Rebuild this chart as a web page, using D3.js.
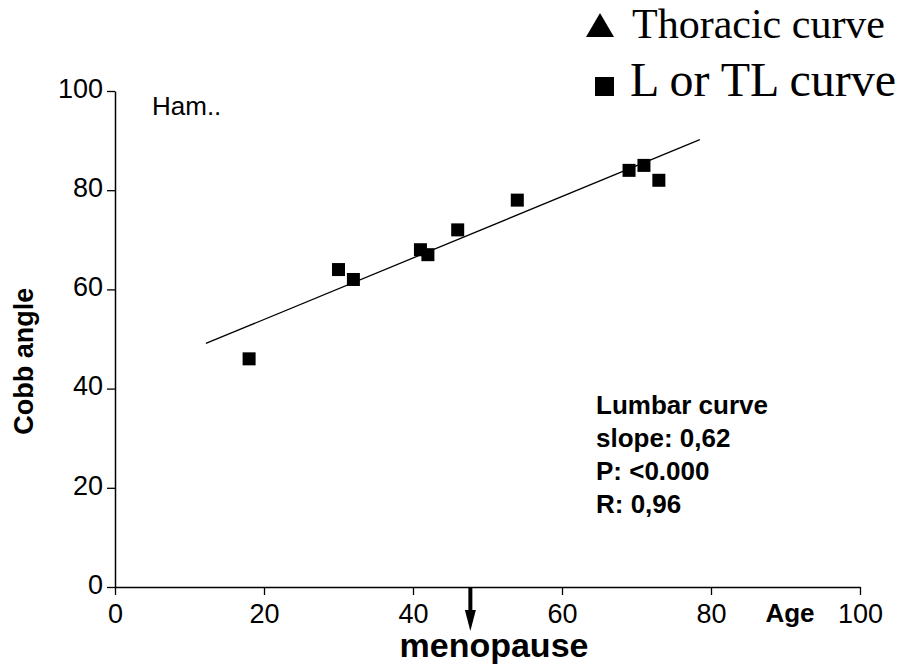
<!DOCTYPE html>
<html>
<head>
<meta charset="utf-8">
<script src="https://cdn.jsdelivr.net/npm/d3@7"></script>
<style>
  body { margin: 0; background: #fff; }
  svg { display: block; }
</style>
</head>
<body>
<svg id="chart" width="903" height="667"></svg>
<script>
// data
const ages = [18, 30, 32, 41, 42, 46, 54, 69, 71, 73];
const cobb = [46, 64, 62, 68, 67, 72, 78, 84, 85, 82];
const fitX = [12.2, 78.5];
const fitY = [49.1, 90.2];
const xTicks = [0, 20, 40, 60, 80, 100];
const yTicks = [0, 20, 40, 60, 80, 100];
const statsLines = ["Lumbar curve", "slope: 0,62", "P: <0.000", "R: 0,96"];
const menopauseAge = 47.7;

const svg = d3.select("#chart");
const font = "Liberation Sans, Arial, sans-serif";

const x = d3.scaleLinear().domain([0, 100]).range([115, 860]);
const y = d3.scaleLinear().domain([0, 100]).range([587, 91]);

// x axis
const xAxis = svg.append("g")
    .attr("transform", `translate(0,${y(0)})`)
    .call(d3.axisBottom(x).tickValues(xTicks).tickSize(8).tickSizeOuter(0).tickFormat(d3.format("d")));
xAxis.select(".domain").attr("stroke", "#000").attr("stroke-width", 1.5);
xAxis.selectAll(".tick line").attr("stroke-width", 1.3);
xAxis.selectAll(".tick text")
    .attr("font-family", font).attr("font-size", 27).attr("fill", "#000")
    .attr("y", 36).attr("dy", null);

// y axis
const yAxis = svg.append("g")
    .attr("transform", `translate(${x(0)},0)`)
    .call(d3.axisLeft(y).tickValues(yTicks).tickSize(8).tickSizeOuter(0).tickFormat(d3.format("d")));
yAxis.select(".domain").attr("stroke", "#000").attr("stroke-width", 1.5);
yAxis.selectAll(".tick line").attr("stroke-width", 1.3);
yAxis.selectAll(".tick text")
    .attr("font-family", font).attr("font-size", 27).attr("fill", "#000")
    .attr("x", -12).attr("dy", "0.23em");

// regression line
svg.append("line")
    .attr("x1", x(fitX[0])).attr("y1", y(fitY[0]))
    .attr("x2", x(fitX[1])).attr("y2", y(fitY[1]))
    .attr("stroke", "#000").attr("stroke-width", 1.3);

// points
svg.selectAll("rect.pt")
    .data(ages.map((a, i) => [a, cobb[i]]))
    .join("rect")
    .attr("class", "pt")
    .attr("x", d => x(d[0]) - 6.5)
    .attr("y", d => y(d[1]) - 6.5)
    .attr("width", 13).attr("height", 13)
    .attr("fill", "#000");

// axis titles
svg.append("text")
    .attr("transform", `translate(33,${y(45.5)}) rotate(-90)`)
    .attr("text-anchor", "middle")
    .attr("font-family", font).attr("font-size", 27).attr("font-weight", "bold")
    .text("Cobb angle");

svg.append("text")
    .attr("x", 790).attr("y", 622)
    .attr("text-anchor", "middle")
    .attr("font-family", font).attr("font-size", 26).attr("font-weight", "bold")
    .text("Age");

svg.append("text")
    .attr("x", 152).attr("y", 115)
    .attr("font-family", font).attr("font-size", 26)
    .text("Ham..");

// stats block
svg.append("g").selectAll("text")
    .data(statsLines)
    .join("text")
    .attr("x", 596)
    .attr("y", (d, i) => 414 + i * 33)
    .attr("font-family", font).attr("font-size", 26).attr("font-weight", "bold")
    .text(d => d);

// menopause arrow
const mx = x(menopauseAge);
svg.append("line")
    .attr("x1", mx).attr("y1", y(0))
    .attr("x2", mx).attr("y2", 612)
    .attr("stroke", "#000").attr("stroke-width", 4);
svg.append("path")
    .attr("d", `M${mx - 5.5},610 L${mx + 5.5},610 L${mx},631 Z`)
    .attr("fill", "#000");
svg.append("text")
    .attr("x", 494).attr("y", 657)
    .attr("text-anchor", "middle")
    .attr("font-family", font).attr("font-size", 34).attr("font-weight", "bold")
    .text("menopause");

// legend
const serif = "Liberation Serif, Times New Roman, serif";
svg.append("path")
    .attr("d", "M586,37 L600,13 L614,37 Z")
    .attr("fill", "#000");
svg.append("text")
    .attr("x", 632).attr("y", 38)
    .attr("font-family", serif).attr("font-size", 42)
    .text("Thoracic curve");
svg.append("rect")
    .attr("x", 595).attr("y", 77).attr("width", 19).attr("height", 19)
    .attr("fill", "#000");
svg.append("text")
    .attr("x", 630).attr("y", 96)
    .attr("font-family", serif).attr("font-size", 48)
    .text("L or TL curve");
</script>
</body>
</html>
